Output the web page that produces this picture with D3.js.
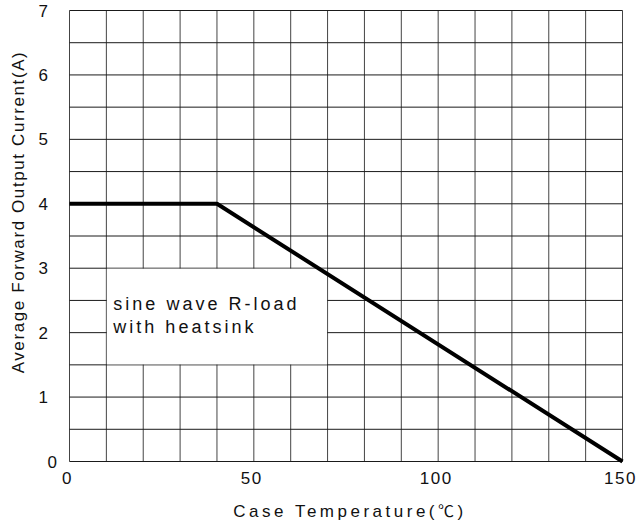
<!DOCTYPE html>
<meta charset="utf-8">
<title>Average Forward Output Current vs Case Temperature</title>
<style>
body { margin: 0; background: #fff; }
text { font-family: "Liberation Sans", Arial, sans-serif; fill: #111; }
</style>
<svg width="637" height="524"></svg>
<script src="https://d3js.org/d3.v7.min.js"></script>
<script>

// derating curve (case temp, current)
var temps = [0, 40, 150];
var currents = [4, 4, 0];
var xTicks = [0, 50, 100, 150];
var yTicks = [0, 1, 2, 3, 4, 5, 6, 7];
var noteLines = ["sine wave R-load", "with heatsink"];

var svg = d3.select("svg");

var x = d3.scaleLinear().domain([0, 150]).range([69.5, 622.5]);
var y = d3.scaleLinear().domain([0, 7]).range([461.5, 10.5]);

// grid: every 10 degC, every 0.5 A
var g = svg.append("g");
g.selectAll(".vg")
  .data(d3.range(0, 151, 10))
  .enter().append("line")
    .attr("x1", function(d) { return x(d); })
    .attr("x2", function(d) { return x(d); })
    .attr("y1", y(0))
    .attr("y2", y(7))
    .attr("stroke", "#444")
    .attr("stroke-width", 1);

g.selectAll(".hg")
  .data(d3.range(0, 14.5, 1).map(function(i) { return i * 0.5; }))
  .enter().append("line")
    .attr("x1", x(0))
    .attr("x2", x(150))
    .attr("y1", function(d) { return y(d); })
    .attr("y2", function(d) { return y(d); })
    .attr("stroke", "#1a1a1a")
    .attr("stroke-width", 1);

// white note box covering part of the grid
svg.append("rect")
  .attr("x", x(10) + 0.5)
  .attr("y", y(3) + 0.5)
  .attr("width", x(70) - x(10) - 1)
  .attr("height", y(1.5) - y(3) - 1)
  .attr("fill", "#fff");

svg.selectAll(".note")
  .data(noteLines)
  .enter().append("text")
    .attr("x", x(10) + 7)
    .attr("y", function(d, i) { return 310 + i * 23; })
    .attr("font-size", 18)
    .attr("letter-spacing", 3)
    .text(function(d) { return d; });

// curve
svg.append("path")
  .datum(temps.map(function(t, i) { return [t, currents[i]]; }))
  .attr("fill", "none")
  .attr("stroke", "#000")
  .attr("stroke-width", 4)
  .attr("stroke-linejoin", "round")
  .attr("d", d3.line().x(function(d) { return x(d[0]); }).y(function(d) { return y(d[1]); }));

// tick labels
svg.selectAll(".xl")
  .data(xTicks)
  .enter().append("text")
    .attr("x", function(d) { return x(d) - 2; })
    .attr("y", 484)
    .attr("text-anchor", "middle")
    .attr("font-size", 17)
    .attr("letter-spacing", 1.5)
    .text(function(d) { return d; });

svg.selectAll(".yl")
  .data(yTicks)
  .enter().append("text")
    .attr("x", function(d) { return d === 0 ? 57 : 48; })
    .attr("y", function(d) { return y(d) + 6; })
    .attr("text-anchor", "end")
    .attr("font-size", 17)
    .text(function(d) { return d; });

// axis titles
var xt = svg.append("text")
  .attr("x", 350)
  .attr("y", 517)
  .attr("text-anchor", "middle")
  .attr("font-size", 17)
  .attr("letter-spacing", 3.5);
xt.append("tspan").text("Case Temperature(");
xt.append("tspan").style("font-family", "'Noto Sans CJK SC'").attr("font-size", 16).text("\u2103");
xt.append("tspan").text(")");

svg.append("text")
  .attr("transform", "translate(24,212) rotate(-90)")
  .attr("text-anchor", "middle")
  .attr("font-size", 17)
  .attr("letter-spacing", 1.6)
  .text("Average Forward Output Current(A)");

</script>
